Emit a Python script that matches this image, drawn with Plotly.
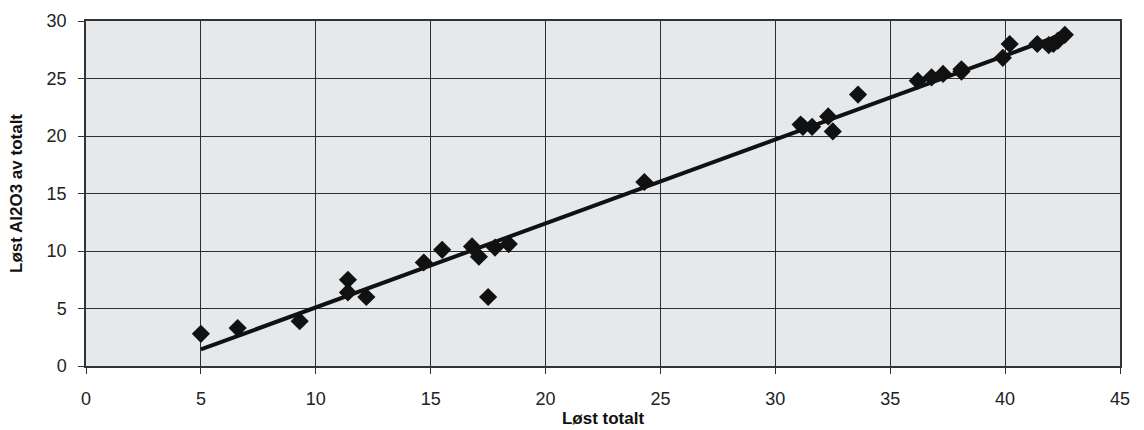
import numpy as np
import plotly.graph_objects as go

# Løst totalt (x) vs. løst Al2O3 av totalt (y)
lost_totalt = [5.0, 6.6, 9.3, 11.4, 11.4, 12.2, 14.7, 15.5, 16.8, 17.1, 17.5, 17.8, 18.4,
               24.3, 31.1, 31.2, 31.6, 32.3, 32.5, 33.6, 36.2, 36.8, 37.3, 38.1, 38.1,
               39.9, 40.2, 41.4, 41.9, 42.1, 42.3, 42.6]
lost_al2o3 = [2.8, 3.3, 3.9, 7.5, 6.4, 6.0, 9.0, 10.1, 10.4, 9.5, 6.0, 10.3, 10.6,
              16.0, 21.0, 20.8, 20.8, 21.7, 20.4, 23.6, 24.8, 25.1, 25.4, 25.6, 25.8,
              26.8, 28.0, 28.0, 27.9, 28.0, 28.3, 28.8]

x_ticks = [0, 5, 10, 15, 20, 25, 30, 35, 40, 45]
y_ticks = [0, 5, 10, 15, 20, 25, 30]

# Linear trend line over the data range
slope, intercept = np.polyfit(lost_totalt, lost_al2o3, 1)
x_fit = np.array([min(lost_totalt), max(lost_totalt)])
y_fit = slope * x_fit + intercept

fig = go.Figure()
fig.add_trace(go.Scatter(
    x=lost_totalt, y=lost_al2o3, mode="markers",
    marker=dict(symbol="diamond", size=14, color="#111111"),
    showlegend=False, hoverinfo="x+y",
))
fig.add_trace(go.Scatter(
    x=x_fit, y=y_fit, mode="lines",
    line=dict(color="#111111", width=4),
    showlegend=False, hoverinfo="skip",
))

axis_font = dict(family="Liberation Sans, Arial, sans-serif", size=18, color="#222222")
title_font = dict(family="Liberation Sans, Arial, sans-serif", size=17, color="#111111")

fig.update_xaxes(
    range=[0, 45], tickvals=x_ticks, ticktext=[str(v) for v in x_ticks],
    showgrid=True, gridcolor="#2e2e2e", gridwidth=1.2,
    showline=True, linecolor="#333333", linewidth=1.5, mirror=True,
    ticks="outside", ticklen=6, tickcolor="#333333",
    tickfont=axis_font, ticklabelstandoff=10,
    title=dict(text="<b>Løst totalt</b>", font=title_font, standoff=4),
    zeroline=False, automargin=False,
)
fig.update_yaxes(
    range=[0, 30], tickvals=y_ticks, ticktext=[str(v) for v in y_ticks],
    showgrid=True, gridcolor="#2e2e2e", gridwidth=1.2,
    showline=True, linecolor="#333333", linewidth=1.5, mirror=True,
    ticks="outside", ticklen=6, tickcolor="#333333",
    tickfont=axis_font, ticklabelstandoff=8,
    title=dict(text="<b>Løst Al2O3 av totalt</b>", font=title_font, standoff=20),
    zeroline=False, automargin=False,
)

fig.update_layout(
    width=1144, height=430,
    margin=dict(l=86, r=24, t=21, b=64),
    plot_bgcolor="#e5e9eb",
    paper_bgcolor="#ffffff",
)

fig.write_html("out.html")
